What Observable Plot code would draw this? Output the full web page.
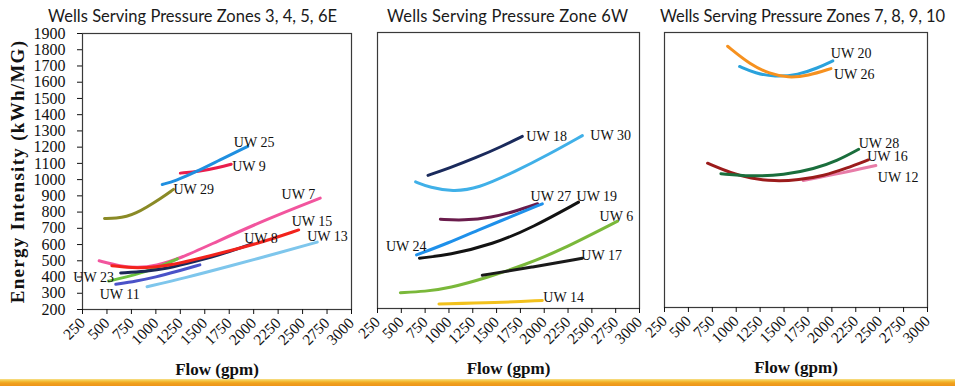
<!DOCTYPE html>
<html>
<head>
<meta charset="utf-8">
<script src="https://cdn.jsdelivr.net/npm/d3@7"></script>
<script src="https://cdn.jsdelivr.net/npm/@observablehq/plot@0.6"></script>
<style>
  body { margin: 0; background: #fff; }
  #wrap { position: relative; width: 955px; height: 386px; overflow: hidden; background: #fff; }
  .panel { position: absolute; top: 0; }
  .panel svg { overflow: visible; background: transparent !important; }
  #titles { position: absolute; left: 0; top: 0; }
  #bar { position: absolute; left: 0; width: 955px; top: 379px; height: 7px;
         background: linear-gradient(to bottom, #f7e08c 0px, #f4c13a 2px, #f0a21e 4px, #ee9418 7px); }
</style>
</head>
<body>
<div id="wrap">
  <svg id="titles" width="955" height="32"></svg>
  <div id="bar"></div>
</div>
<script>
// ---------------- DATA ----------------
const flowTicks = [250, 500, 750, 1000, 1250, 1500, 1750, 2000, 2250, 2500, 2750, 3000];
const energyTicks = [200, 300, 400, 500, 600, 700, 800, 900, 1000, 1100, 1200, 1300, 1400, 1500, 1600, 1700, 1800, 1900];
const panelTitles = ["Wells Serving Pressure Zones 3, 4, 5, 6E", "Wells Serving Pressure Zone 6W", "Wells Serving Pressure Zones 7, 8, 9, 10"];
const xLabel = "Flow (gpm)";
const yLabel = "Energy Intensity (kWh/MG)";

// Panel 1 : [flow gpm, energy kWh/MG]
const uw29 = [[475, 760], [600, 762], [700, 772], [800, 795], [900, 828], [1050, 884], [1180, 940]];
const uw25 = [[1065, 970], [1200, 992], [1400, 1045], [1650, 1120], [1940, 1205]];
const uw9  = [[1250, 1040], [1450, 1050], [1650, 1075], [1770, 1095]];
const uw7  = [[420, 500], [640, 466], [810, 456], [1000, 468], [1250, 515], [1600, 612], [2140, 758], [2680, 886]];
const uw15 = [[550, 470], [750, 455], [1000, 460], [1250, 485], [1600, 538], [2040, 605], [2460, 690]];
const uw8  = [[640, 425], [900, 435], [1100, 450], [1420, 498], [1700, 545], [1985, 605]];
const uw23 = [[520, 375], [700, 400], [880, 430], [1050, 468], [1220, 512]];
const uw11 = [[590, 355], [800, 375], [1000, 400], [1200, 432], [1450, 475]];
const uw13 = [[910, 340], [1300, 395], [1760, 468], [2200, 540], [2650, 615]];

// Panel 2
const uw18 = [[780, 1020], [1000, 1064], [1290, 1130], [1550, 1197], [1770, 1260]];
const uw30 = [[650, 980], [800, 945], [1040, 920], [1300, 938], [1700, 1045], [2050, 1150], [2400, 1265]];
const uw27 = [[910, 750], [1150, 742], [1450, 760], [1700, 800], [1930, 845]];
const uw24 = [[660, 530], [1000, 605], [1290, 680], [1650, 765], [1980, 845]];
const uw19 = [[690, 510], [1000, 530], [1460, 595], [1880, 700], [2360, 855]];
const uw6  = [[490, 297], [750, 305], [1000, 325], [1400, 390], [1800, 470], [2160, 555], [2770, 738]];
const uw17 = [[1350, 405], [1880, 455], [2400, 510]];
const uw14 = [[895, 228], [1500, 235], [1980, 250]];

// Panel 3
const uw26 = [[910, 1815], [1150, 1700], [1350, 1645], [1540, 1620], [1750, 1632], [1990, 1677]];
const uw20 = [[1035, 1690], [1200, 1648], [1400, 1625], [1650, 1638], [1850, 1680], [2010, 1725]];
const uw12 = [[1700, 985], [2100, 1030], [2460, 1078]];
const uw16 = [[700, 1092], [950, 1030], [1150, 998], [1400, 980], [1650, 988], [1920, 1015], [2150, 1060], [2380, 1112]];
const uw28 = [[840, 1027], [1150, 1010], [1500, 1018], [1820, 1058], [2050, 1105], [2280, 1178]];

// ---------------- STYLE ----------------
// [name, data, color, labelAt, textAnchor, dx, dy]
const panel1Series = [
  ["UW 7", uw7, "#f2559e", "last", "end", -5, -4],
  ["UW 13", uw13, "#7ec6ec", "last", "start", -10, -6],
  ["UW 11", uw11, "#4a52c8", "first", "start", -16, 10],
  ["UW 23", uw23, "#6cc23f", "first", "end", 5, -4],
  ["UW 8", uw8, "#1b2857", "last", "start", -8, -5],
  ["UW 15", uw15, "#f2231c", "last", "start", -7, -8],
  ["UW 29", uw29, "#8a8a26", "last", "start", 0, 0],
  ["UW 9", uw9, "#e91e4c", "last", "start", 1, 2],
  ["UW 25", uw25, "#1f8fe0", "last", "start", -14, -4]
];
const panel2Series = [
  ["UW 30", uw30, "#40b0e8", "last", "start", 8, 0],
  ["UW 18", uw18, "#1a2a5c", "last", "start", 4, 0],
  ["UW 27", uw27, "#6a1c4c", "last", "start", -7, -7],
  ["UW 24", uw24, "#1e90ea", "first", "end", 10, -8],
  ["UW 19", uw19, "#121212", "last", "start", -2, -6],
  ["UW 6", uw6, "#7ab83a", "last", "start", -18, -5],
  ["UW 17", uw17, "#1a1a1a", "last", "start", -1, -3],
  ["UW 14", uw14, "#f2c11c", "last", "start", 1, -3]
];
const panel3Series = [
  ["UW 20", uw20, "#2aa2dc", "last", "start", -2, -7],
  ["UW 26", uw26, "#f6911f", "last", "start", 3, 6],
  ["UW 12", uw12, "#e87ca8", "last", "start", 2, 12],
  ["UW 16", uw16, "#9b1b1b", "last", "start", -1, -3],
  ["UW 28", uw28, "#1a6e3c", "last", "start", 0, -6]
];

const serif = "'Liberation Serif', 'Times New Roman', Times, serif";

function makePanel(series, geom, showY) {
  const marks = [Plot.frame({stroke: "#3a3a3a", strokeWidth: 1.2})];
  marks.push(Plot.axisX({
    ticks: flowTicks, tickSize: 5, tickPadding: 6, tickRotate: -45,
    tickFormat: d => String(d), fontSize: 15.5,
    label: xLabel, labelAnchor: "center", labelOffset: 65, labelArrow: false
  }));
  if (showY) {
    marks.push(Plot.axisY({
      ticks: energyTicks, tickSize: 5, tickPadding: 12,
      tickFormat: d => String(d), fontSize: 16,
      label: yLabel, labelAnchor: "center", labelOffset: 72, labelArrow: false
    }));
  }
  for (const [name, data, color] of series) {
    marks.push(Plot.line(data, {x: d => d[0], y: d => d[1], stroke: color, strokeWidth: 3, curve: "basis"}));
  }
  for (const [name, data, color, at, anchor, dx, dy] of series) {
    const p = at === "first" ? data[0] : data[data.length - 1];
    marks.push(Plot.text([p], {x: d => d[0], y: d => d[1], text: () => name,
      textAnchor: anchor, dx, dy, fontSize: 14, fill: "#111"}));
  }
  return Plot.plot({
    width: geom.width, height: 386,
    marginLeft: geom.ml, marginRight: geom.mr, marginTop: geom.mt, marginBottom: 386 - geom.bottom,
    x: {domain: [250, 3000]},
    y: {domain: [200, 1900], axis: null},
    style: {fontFamily: serif, background: "transparent", overflow: "visible", color: "#111"},
    marks
  });
}

const geoms = [
  {left: 0, width: 370, ml: 82, mr: 19, mt: 33, bottom: 309},
  {left: 300, width: 360, ml: 77, mr: 21, mt: 32, bottom: 308},
  {left: 590, width: 365, ml: 74, mr: 28, mt: 32, bottom: 307}
];
const allSeries = [panel1Series, panel2Series, panel3Series];
const wrap = document.getElementById("wrap");
allSeries.forEach((s, i) => {
  const div = document.createElement("div");
  div.className = "panel";
  div.style.left = geoms[i].left + "px";
  const svg = makePanel(s, geoms[i], i === 0);
  div.appendChild(svg);
  wrap.insertBefore(div, document.getElementById("bar"));
  const sel = d3.select(svg);
  sel.selectAll('[aria-label="x-axis label"]').attr("font-weight", "bold").attr("font-size", 17);
  sel.selectAll('[aria-label="y-axis label"]').attr("font-weight", "bold").attr("font-size", 19).style("letter-spacing", "1.3px");
});

// titles
const titleSpecs = [[48, 337], [387, 628], [660, 945]];
const tsvg = d3.select("#titles");
panelTitles.forEach((t, i) => {
  const [x0, x1] = titleSpecs[i];
  tsvg.append("text").attr("x", x0).attr("y", 21.5)
    .attr("font-family", "Lato, 'Open Sans', sans-serif").attr("font-size", 16.5).attr("fill", "#1a1a1a")
    .attr("textLength", x1 - x0).attr("lengthAdjust", "spacing").text(t);
});
</script>
</body>
</html>
